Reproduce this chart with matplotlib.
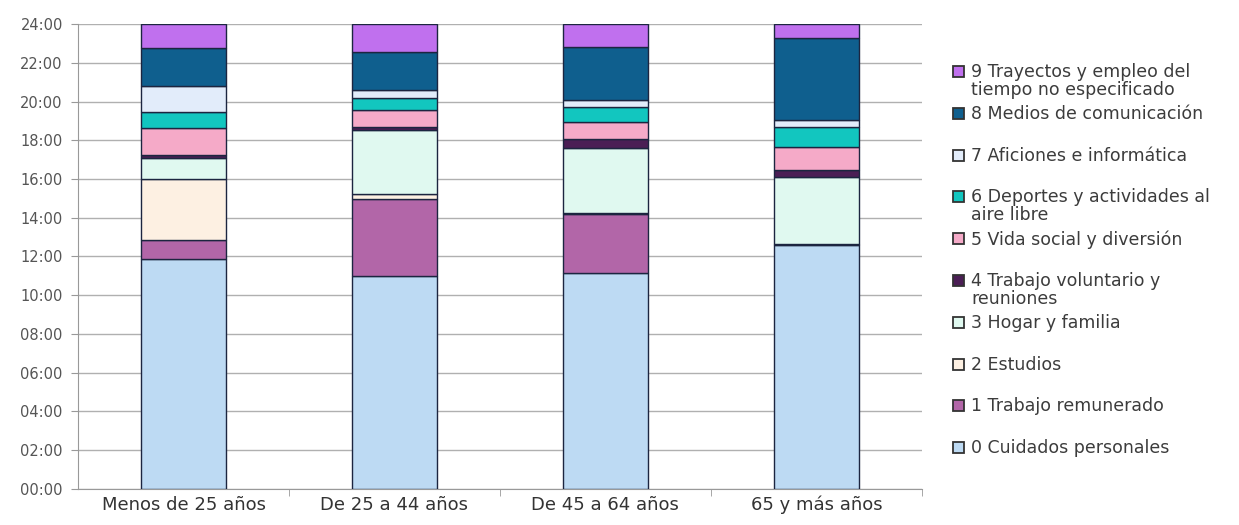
import matplotlib
matplotlib.use("Agg")
import matplotlib.pyplot as plt
import numpy as np
from matplotlib.ticker import FuncFormatter, FixedLocator
from matplotlib.patches import Rectangle

plt.rcParams['font.family'] = ['DejaVu Sans']

categorias = ["Menos de 25 años", "De 25 a 44 años", "De 45 a 64 años", "65 y más años"]

actividades = [
    "0 Cuidados personales",
    "1 Trabajo remunerado",
    "2 Estudios",
    "3 Hogar y familia",
    "4 Trabajo voluntario y\nreuniones",
    "5 Vida social y diversión",
    "6 Deportes y actividades al\naire libre",
    "7 Aficiones e informática",
    "8 Medios de comunicación",
    "9 Trayectos y empleo del\ntiempo no especificado",
]

# horas por actividad, una lista por grupo de edad
cuidados = [11.86, 10.99, 11.13, 12.58]
trabajo = [0.98, 3.96, 3.05, 0.04]
estudios = [3.15, 0.29, 0.08, 0.04]
hogar = [1.11, 3.28, 3.36, 3.44]
voluntario = [0.13, 0.17, 0.47, 0.35]
vida_social = [1.42, 0.86, 0.86, 1.20]
deportes = [0.82, 0.64, 0.77, 1.04]
aficiones = [1.35, 0.40, 0.35, 0.34]
medios = [1.97, 1.98, 2.76, 4.26]
trayectos = [1.21, 1.43, 1.17, 0.71]

series = [cuidados, trabajo, estudios, hogar, voluntario,
          vida_social, deportes, aficiones, medios, trayectos]

colores = ["#bddaf3", "#b266a8", "#fdf0e2", "#e0f9f0", "#4b1e55",
           "#f5aac8", "#12c6bf", "#e2ecfa", "#0f5f8e", "#c070ee"]
borde = "#1c2540"

fig = plt.figure(figsize=(12.39, 5.25), dpi=100)
ax = fig.add_axes([0.063, 0.069, 0.681, 0.885])

x = np.arange(len(categorias))
base = np.zeros(len(categorias))
for vals, col in zip(series, colores):
    ax.bar(x, vals, 0.4, bottom=base, color=col, edgecolor=borde, linewidth=1.0, zorder=3)
    base += np.array(vals)

ax.set_xlim(-0.5, len(categorias) - 0.5)
ax.set_ylim(0, 24)
ax.set_yticks(np.arange(0, 25, 2))
ax.yaxis.set_major_formatter(FuncFormatter(lambda v, _: f"{int(v):02d}:00"))
ax.grid(axis='y', color="#b0b0b0", linewidth=1.0, zorder=0)

ax.set_xticks(x)
ax.set_xticklabels(categorias, fontsize=13, color="#333333")
ax.tick_params(axis='x', which='major', length=0, pad=5)
ax.xaxis.set_minor_locator(FixedLocator(np.arange(len(categorias)) + 0.5))
ax.tick_params(axis='x', which='minor', length=5, color="#999999")
ax.tick_params(axis='y', length=5, color="#999999", labelsize=10.5,
               labelcolor="#555555", pad=6)

for s in ['top', 'right']:
    ax.spines[s].set_visible(False)
for s in ['left', 'bottom']:
    ax.spines[s].set_color("#999999")

# leyenda dibujada a mano, de la 9 a la 0
fw, fh = fig.get_size_inches() * fig.dpi
y0 = 72
paso = 41.8
for i, (lab, col) in enumerate(zip(actividades[::-1], colores[::-1])):
    yc = y0 + i * paso
    fig.patches.append(Rectangle((953 / fw, 1 - (yc + 5) / fh), 11 / fw, 11 / fh,
                                 transform=fig.transFigure, facecolor=col,
                                 edgecolor="#333333", linewidth=1.3))
    fig.text(971 / fw, 1 - (yc - 9) / fh, lab, fontsize=12.5, color="#3c3c3c",
             va='top', ha='left', linespacing=0.98)

plt.savefig("out.png", dpi=100)
plt.close()
